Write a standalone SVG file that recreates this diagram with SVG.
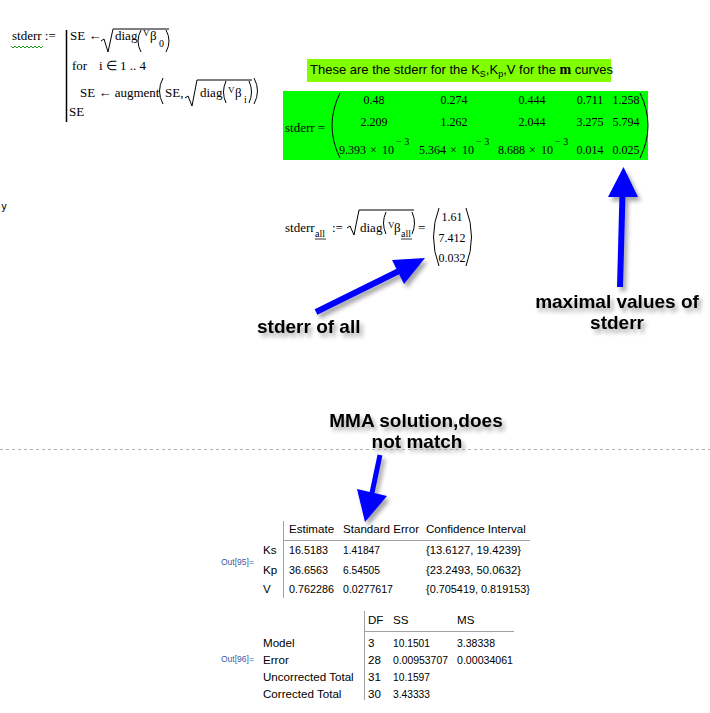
<svg xmlns="http://www.w3.org/2000/svg" width="710" height="713" viewBox="0 0 710 713">
<defs>
<filter id="sh" x="-20%" y="-30%" width="150%" height="180%">
<feGaussianBlur in="SourceAlpha" stdDeviation="2"/>
<feOffset dx="3" dy="4" result="b"/>
<feFlood flood-color="#000" flood-opacity="0.35"/>
<feComposite in2="b" operator="in"/>
<feMerge><feMergeNode/><feMergeNode in="SourceGraphic"/></feMerge>
</filter>
<style>
.m{font-family:"Liberation Serif",serif;font-size:13px;fill:#000}
.sm{font-family:"Liberation Serif",serif;font-size:9px;fill:#000}
.sb{font-family:"Liberation Serif",serif;font-size:10px;fill:#000}
.n{font-family:"Liberation Serif",serif;font-size:12px;fill:#000}
.sup{font-family:"Liberation Serif",serif;font-size:10px;fill:#000}
.p{fill:none;stroke:#000;stroke-width:1}
.lbl{font-family:"Liberation Sans",Arial,sans-serif;font-weight:bold;font-size:19px;fill:#000}
.t{font-family:"Liberation Sans",Arial,sans-serif;font-size:11.6px;fill:#000}
.out{font-family:"Liberation Sans",Arial,sans-serif;font-size:8.5px;fill:#3b5aa8}
.gl{stroke:#a0a0a0;stroke-width:1}
.ar{fill:#0000ff}
.sf{stroke:#0000ff;fill:none}
</style>
</defs>
<rect width="710" height="713" fill="#fff"/>

<g id="program">
<text class="m" x="12" y="40">stderr :=</text>
<path d="M11,46 l2,2 l2,-2 l2,2 l2,-2 l2,2 l2,-2 l2,2 l2,-2 l2,2 l2,-2 l2,2 l2,-2 l2,2 l2,-2 l2,2 l2,-2" fill="none" stroke="#1a9a1a" stroke-width="1"/>
<line x1="66.5" y1="30" x2="66.5" y2="122" stroke="#000" stroke-width="1.5"/>
<text class="m" x="70" y="40">SE ←</text>
<path class="p" d="M101,41 L104,39 L108,52 L113,29 L169,29"/>
<text class="m" x="115" y="40">diag</text>
<path class="p" d="M141,30 Q135,41 141,52"/>
<text class="sm" x="143" y="36">V</text>
<text class="m" x="150" y="40">β</text>
<text class="sb" x="159" y="47">0</text>
<path class="p" d="M166,30 Q172,41 166,52"/>
<text class="m" x="72" y="70">for</text>
<text class="m" x="99" y="70">i ∈ 1 .. 4</text>
<text class="m" x="80" y="97">SE ← augment</text>
<path class="p" d="M163,78 Q156,91 163,104"/>
<text class="m" x="165" y="97">SE,</text>
<path class="p" d="M185,98 L188,96 L192,106 L197,80 L252,80"/>
<text class="m" x="200" y="97">diag</text>
<path class="p" d="M226,81 Q221,92 226,103"/>
<text class="sm" x="228" y="93">V</text>
<text class="m" x="235" y="97">β</text>
<text class="sb" x="244" y="103">i</text>
<path class="p" d="M249,81 Q254,92 249,103"/>
<path class="p" d="M254,78 Q261,91 254,104"/>
<text class="m" x="69" y="116">SE</text>
</g>

<g id="stray">
<text x="1" y="210" style="font-family:'DejaVu Sans Mono',monospace;font-size:10px;fill:#000">y</text>
</g>

<g id="title">
<rect x="307" y="59" width="304" height="23" fill="#80ff00"/>
<text x="310" y="74" style="font-family:'Liberation Sans',Arial,sans-serif;font-size:13px;fill:#000">These are the stderr for the K<tspan dy="3" font-size="9">S</tspan><tspan dy="-3">,K</tspan><tspan dy="3" font-size="9">p</tspan><tspan dy="-3">,V for the </tspan><tspan style="font-family:'Liberation Serif',serif;font-weight:bold;font-size:14px">m</tspan> curves</text>
</g>

<g id="matrix">
<rect x="283" y="91" width="365" height="69" fill="#00ff00"/>
<text class="m" x="285" y="132">stderr =</text>
<path class="p" d="M340,93 Q324,125.5 340,158"/>
<path class="p" d="M640,93 Q656,125.5 640,158"/>
<g class="n" text-anchor="middle">
<text x="374" y="104">0.48</text>
<text x="454" y="104">0.274</text>
<text x="532" y="104">0.444</text>
<text x="590" y="104">0.711</text>
<text x="626" y="104">1.258</text>
<text x="374" y="126">2.209</text>
<text x="454" y="126">1.262</text>
<text x="532" y="126">2.044</text>
<text x="590" y="126">3.275</text>
<text x="626" y="126">5.794</text>
<text x="590" y="154">0.014</text>
<text x="626" y="154">0.025</text>
</g>
<text class="n" x="339" y="154">9.393</text>
<text class="n" x="370" y="154">×</text>
<text class="n" x="382" y="154">10</text>
<text class="sup" x="396" y="145">− 3</text>
<text class="n" x="419" y="154">5.364</text>
<text class="n" x="450" y="154">×</text>
<text class="n" x="462" y="154">10</text>
<text class="sup" x="476" y="145">− 3</text>
<text class="n" x="498" y="154">8.688</text>
<text class="n" x="529" y="154">×</text>
<text class="n" x="541" y="154">10</text>
<text class="sup" x="555" y="145">− 3</text>
</g>

<g id="stderr_all">
<text class="m" x="285" y="232">stderr</text>
<text class="sb" x="315" y="237">all</text>
<line x1="315" y1="239" x2="326" y2="239" stroke="#000" stroke-width="0.8"/>
<text class="m" x="332" y="232">:=</text>
<path class="p" d="M347,228 L350,226 L354,235 L359,210 L414,210"/>
<text class="m" x="360" y="232">diag</text>
<path class="p" d="M386,212 Q381,223 386,234"/>
<text class="sm" x="388" y="228">V</text>
<text class="m" x="394" y="232">β</text>
<text class="sb" x="401" y="237">all</text>
<line x1="401" y1="239" x2="412" y2="239" stroke="#000" stroke-width="0.8"/>
<path class="p" d="M412,212 Q417,223 412,234"/>
<text class="m" x="418" y="232">=</text>
<path class="p" d="M439,208 Q428,237 439,266"/>
<path class="p" d="M466,208 Q477,237 466,266"/>
<g class="n" text-anchor="middle">
<text x="452" y="221">1.61</text>
<text x="452" y="242">7.412</text>
<text x="452" y="262">0.032</text>
</g>
</g>

<g id="label_all" filter="url(#sh)">
<text class="lbl" x="257" y="333">stderr of all</text>
</g>
<g id="label_max" filter="url(#sh)">
<text class="lbl" x="617" y="308" text-anchor="middle">maximal values of</text>
<text class="lbl" x="617" y="329" text-anchor="middle">stderr</text>
</g>
<g id="label_mma" filter="url(#sh)">
<text class="lbl" x="416" y="427" text-anchor="middle">MMA solution,does</text>
<text class="lbl" x="417" y="448" text-anchor="middle">not match</text>
</g>

<line x1="0" y1="449.5" x2="710" y2="449.5" stroke="#b0b0b0" stroke-width="1" stroke-dasharray="3,3"/>

<g id="connectors" filter="url(#sh)">
<line class="sf" x1="316" y1="312" x2="399" y2="271" stroke-width="6"/>
<polygon class="ar" points="425,258 404,284 392,260"/>
<line class="sf" x1="620" y1="287" x2="622.5" y2="194" stroke-width="6"/>
<polygon class="ar" points="623.5,167 608,197 638,197"/>
<line class="sf" x1="380" y1="455" x2="372" y2="493" stroke-width="5"/>
<polygon class="ar" points="365,522 357,489 387,496"/>
</g>

<g id="table1">
<line class="gl" x1="283.5" y1="521" x2="283.5" y2="598"/>
<line class="gl" x1="283" y1="540.5" x2="530" y2="540.5"/>
<text class="t" x="289" y="533">Estimate</text>
<text class="t" x="343" y="533">Standard Error</text>
<text class="t" x="426" y="533">Confidence Interval</text>
<text class="out" x="221" y="565">Out[95]=</text>
<text class="t" x="263" y="554">Ks</text>
<text class="t" x="289" y="554" textLength="39" lengthAdjust="spacingAndGlyphs">16.5183</text>
<text class="t" x="343" y="554" textLength="37" lengthAdjust="spacingAndGlyphs">1.41847</text>
<text class="t" x="426" y="554" textLength="95" lengthAdjust="spacingAndGlyphs">{13.6127, 19.4239}</text>
<text class="t" x="263" y="574">Kp</text>
<text class="t" x="289" y="574" textLength="39" lengthAdjust="spacingAndGlyphs">36.6563</text>
<text class="t" x="343" y="574" textLength="37" lengthAdjust="spacingAndGlyphs">6.54505</text>
<text class="t" x="426" y="574" textLength="95" lengthAdjust="spacingAndGlyphs">{23.2493, 50.0632}</text>
<text class="t" x="263" y="593">V</text>
<text class="t" x="289" y="593" textLength="45" lengthAdjust="spacingAndGlyphs">0.762286</text>
<text class="t" x="343" y="593" textLength="50" lengthAdjust="spacingAndGlyphs">0.0277617</text>
<text class="t" x="426" y="593" textLength="104" lengthAdjust="spacingAndGlyphs">{0.705419, 0.819153}</text>
</g>

<g id="table2">
<line class="gl" x1="364.5" y1="611" x2="364.5" y2="700"/>
<line class="gl" x1="364" y1="631.5" x2="514" y2="631.5"/>
<text class="t" x="368" y="624">DF</text>
<text class="t" x="393" y="624">SS</text>
<text class="t" x="457" y="624">MS</text>
<text class="out" x="221" y="662">Out[96]=</text>
<text class="t" x="263" y="647">Model</text>
<text class="t" x="368" y="647">3</text>
<text class="t" x="393" y="647" textLength="37" lengthAdjust="spacingAndGlyphs">10.1501</text>
<text class="t" x="457" y="647" textLength="38" lengthAdjust="spacingAndGlyphs">3.38338</text>
<text class="t" x="263" y="664">Error</text>
<text class="t" x="368" y="664">28</text>
<text class="t" x="393" y="664" textLength="55" lengthAdjust="spacingAndGlyphs">0.00953707</text>
<text class="t" x="457" y="664" textLength="56" lengthAdjust="spacingAndGlyphs">0.00034061</text>
<text class="t" x="263" y="681">Uncorrected Total</text>
<text class="t" x="368" y="681">31</text>
<text class="t" x="393" y="681" textLength="37" lengthAdjust="spacingAndGlyphs">10.1597</text>
<text class="t" x="263" y="698">Corrected Total</text>
<text class="t" x="368" y="698">30</text>
<text class="t" x="393" y="698" textLength="37" lengthAdjust="spacingAndGlyphs">3.43333</text>
</g>
</svg>
